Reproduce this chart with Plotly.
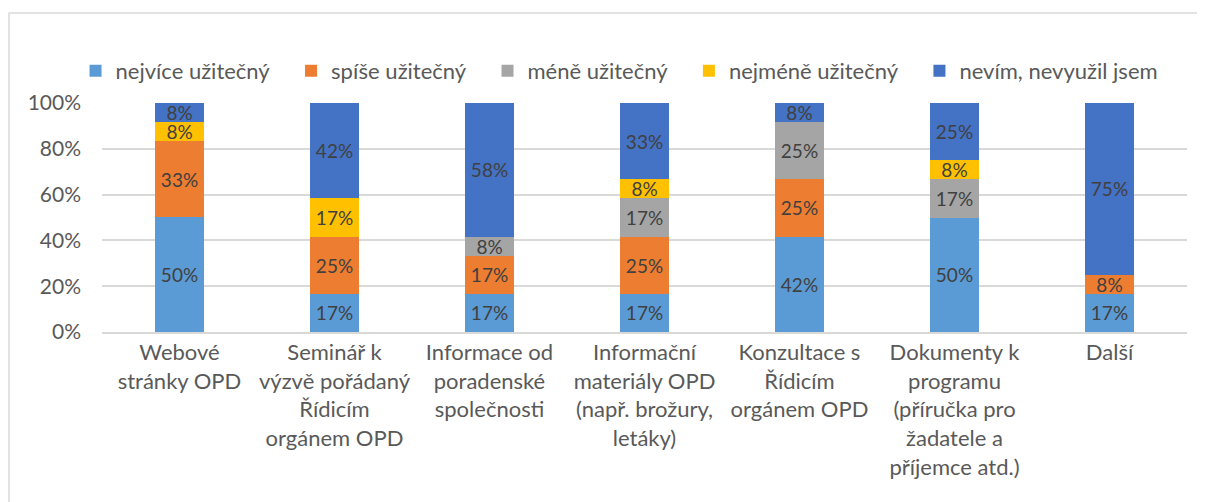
import plotly.graph_objects as go

categories = [
    "Webové<br>stránky OPD",
    "Seminář k<br>výzvě pořádaný<br>Řídicím<br>orgánem OPD",
    "Informace od<br>poradenské<br>společnosti",
    "Informační<br>materiály OPD<br>(např. brožury,<br>letáky)",
    "Konzultace s<br>Řídicím<br>orgánem OPD",
    "Dokumenty k<br>programu<br>(příručka pro<br>žadatele a<br>příjemce atd.)",
    "Další",
]

nejvice = [50.0, 16.7, 16.7, 16.7, 41.7, 50.0, 16.7]
spise = [33.3, 25.0, 16.7, 25.0, 25.0, 0, 8.3]
mene = [0, 0, 8.3, 16.7, 25.0, 16.7, 0]
nejmene = [8.3, 16.7, 0, 8.3, 0, 8.3, 0]
nevim = [8.3, 41.7, 58.3, 33.3, 8.3, 25.0, 75.0]

series = [
    ("nejvíce užitečný", nejvice, "#5B9BD5"),
    ("spíše užitečný", spise, "#ED7D31"),
    ("méně užitečný", mene, "#A5A5A5"),
    ("nejméně užitečný", nejmene, "#FFC000"),
    ("nevím, nevyužil jsem", nevim, "#4472C4"),
]

FONT = "Lato, 'Noto Sans', sans-serif"
PAD = "\u00a0\u00a0\u00a0"  # a bit more room between legend entries

fig = go.Figure()
for i, (name, vals, color) in enumerate(series):
    fig.add_trace(go.Bar(
        x=categories,
        y=vals,
        name=name + (PAD if i < len(series) - 1 else ""),
        marker=dict(color=color, line=dict(width=0)),
        text=[f"{v:.0f}%" if v > 0 else "" for v in vals],
        textposition="inside",
        insidetextanchor="middle",
        textangle=0,
        textfont=dict(color="#404040", size=19, family=FONT),
        constraintext="none",
    ))

# page offset of 8px (body margin) is taken into account in the margins
fig.update_layout(
    barmode="stack",
    barnorm="percent",
    bargap=0.69,
    width=1197,
    height=494,
    margin=dict(l=94, r=18, t=95, b=170),
    plot_bgcolor="white",
    paper_bgcolor="white",
    font=dict(family=FONT, size=22, color="#595959"),
    legend=dict(
        orientation="h",
        x=0.477, xanchor="center",
        y=1.14, yanchor="middle",
        font=dict(size=22, color="#595959"),
        bgcolor="rgba(0,0,0,0)",
        itemwidth=30,
        traceorder="normal",
    ),
    showlegend=True,
)

fig.update_yaxes(
    range=[0, 100],
    tickvals=[0, 20, 40, 60, 80, 100],
    ticktext=["0%", "20%", "40%", "60%", "80%", "100%"],
    tickfont=dict(size=21),
    showgrid=True,
    gridcolor="#D9D9D9",
    gridwidth=1.5,
    zeroline=False,
    showline=False,
    ticks="",
    ticklabelstandoff=20,
)
fig.update_xaxes(
    showline=True,
    linecolor="#D9D9D9",
    linewidth=1.5,
    ticks="",
    tickangle=0,
)

# outer chart border
fig.add_shape(
    type="rect", xref="paper", yref="paper",
    x0=(1 - 94) / 1085, x1=(1205 - 94) / 1085,
    y0=-0.9, y1=(324 - 5) / 229,
    line=dict(color="#D9D9D9", width=1.5),
    fillcolor="rgba(0,0,0,0)",
    layer="below",
)

fig.write_html("out.html")
